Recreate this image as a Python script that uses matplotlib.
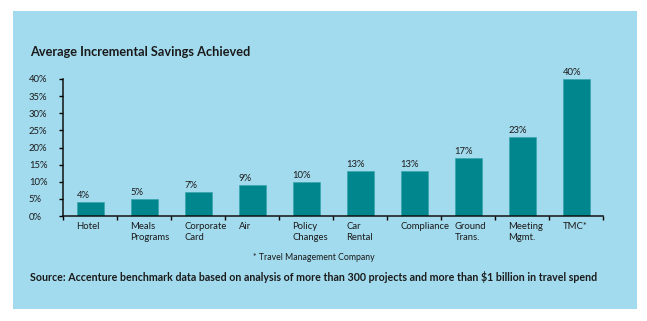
import numpy as np
import matplotlib
matplotlib.use('Agg')
import matplotlib.pyplot as plt
from matplotlib.patches import Rectangle

plt.rcParams['font.family'] = ['Lato', 'DejaVu Sans']

# Savings by category
categories = ['Hotel', 'Meals\nPrograms', 'Corporate\nCard', 'Air', 'Policy\nChanges',
              'Car\nRental', 'Compliance', 'Ground\nTrans.', 'Meeting\nMgmt.', 'TMC*']
savings = [4, 5, 7, 9, 10, 13, 13, 17, 23, 40]
yticks = [0, 5, 10, 15, 20, 25, 30, 35, 40]

bg = '#a3dbee'
bar_c = '#00868c'
txt_c = '#1a1a1a'

W, H = 647, 321
fig = plt.figure(figsize=(W/100, H/100), dpi=100, facecolor='white')
fig.patches.append(Rectangle((13/W, 1-309/H), 624/W, 298/H, transform=fig.transFigure,
                             facecolor=bg, edgecolor='none', zorder=-1))

ax = fig.add_axes([63/W, 1-216/H, 540/W, 137/H])
ax.set_facecolor('none')
x = np.arange(len(categories)) + 0.5
bw = 0.5
ax.bar(x, savings, width=bw, color=bar_c, edgecolor='#3aa5ab', linewidth=0.5, zorder=2)
for xi, v in zip(x, savings):
    ax.text(xi - bw/2, v + 0.6, '{}%'.format(v), ha='left', va='bottom',
            fontsize=6.8, color=txt_c)

ax.set_xlim(0, 10)
ax.set_ylim(0, 40)
for s in ['top', 'right']:
    ax.spines[s].set_visible(False)
for s in ['left', 'bottom']:
    ax.spines[s].set_linewidth(1.1)
    ax.spines[s].set_color('#111111')

ax.set_yticks(yticks)
ax.set_yticklabels(['{}%'.format(t) for t in yticks], ha='left', fontsize=6.8, color=txt_c)
ax.tick_params(axis='y', direction='out', length=3, width=1, pad=21.5)

ax.set_xticks(np.arange(0, 11))
ax.set_xticklabels([])
ax.tick_params(axis='x', direction='out', length=3, width=1)
for xi, lab in zip(x, categories):
    ax.text(xi - bw/2, -1.8, lab, ha='left', va='top', fontsize=6.8,
            color=txt_c, linespacing=1.25)

fig.text(30/W, 1-52/H, 'Average Incremental Savings Achieved', fontsize=9.2,
         fontweight='bold', color=txt_c, va='center', ha='left')
fig.text(314/W, 1-258/H, '* Travel Management Company', fontsize=6.3,
         color=txt_c, va='center', ha='center')
fig.text(30/W, 1-277/H, 'Source: Accenture benchmark data based on analysis of more than 300 '
         'projects and more than $1 billion in travel spend', fontsize=7.65,
         fontweight='bold', color=txt_c, va='center', ha='left')

fig.savefig('out.png', dpi=100, facecolor='white')
